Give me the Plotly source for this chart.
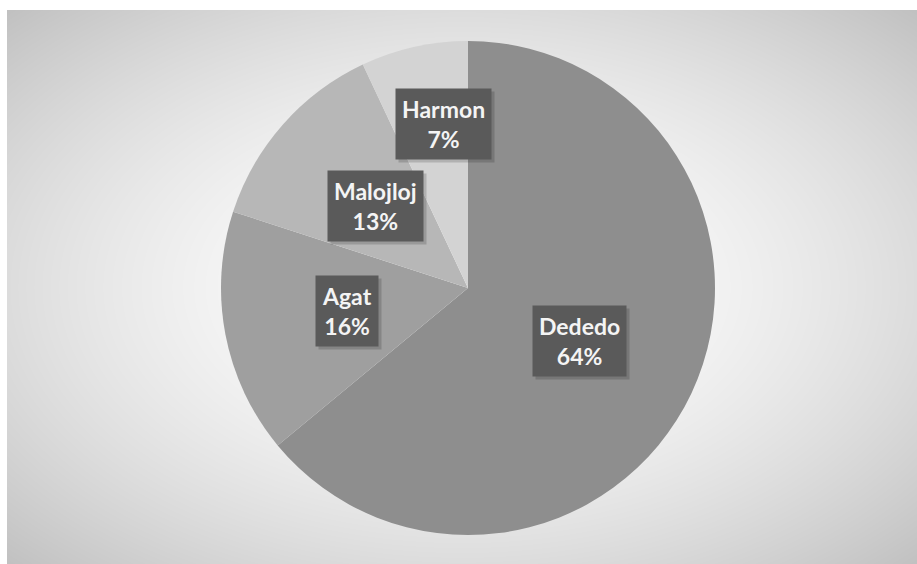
import base64
import math
import struct
import zlib

import numpy as np
import plotly.graph_objects as go

# Share of each village
villages = ["Dededo", "Agat", "Malojloj", "Harmon"]
shares = [64, 16, 13, 7]
slice_colors = ["#8e8e8e", "#9f9f9f", "#b7b7b7", "#d3d3d3"]

W, H = 917, 564
# chart area (pixels) and pie geometry
AX0, AY0 = 7, 10
CX, CY, R = 468, 288, 247


def gradient_png(w, h):
    """Radial grey-to-white fill for the chart area, encoded as a PNG data URI."""
    yy, xx = np.mgrid[0:h, 0:w].astype(float)
    dx = (xx - w / 2) / (w / 2)
    dy = (yy - h / 2) / (h / 2)
    d = np.sqrt(dx ** 2 + dy ** 2) / math.sqrt(2)
    v = 255 - 62 * np.clip(d, 0, 1) ** 1.7
    img = np.clip(v, 0, 255).astype(np.uint8)
    raw = b"".join(b"\x00" + row.tobytes() for row in img)

    def chunk(tag, data):
        c = struct.pack(">I", len(data)) + tag + data
        return c + struct.pack(">I", zlib.crc32(tag + data) & 0xFFFFFFFF)

    png = b"\x89PNG\r\n\x1a\n"
    png += chunk(b"IHDR", struct.pack(">IIBBBBB", w, h, 8, 0, 0, 0, 0))
    png += chunk(b"IDAT", zlib.compress(raw, 9))
    png += chunk(b"IEND", b"")
    return "data:image/png;base64," + base64.b64encode(png).decode()


fig = go.Figure(
    go.Pie(
        labels=villages,
        values=shares,
        sort=False,
        direction="clockwise",
        rotation=0,
        marker=dict(colors=slice_colors, line=dict(width=0)),
        textinfo="none",
        hoverinfo="label+percent",
        domain=dict(
            x=[(CX - R) / W, (CX + R) / W],
            y=[1 - (CY + R) / H, 1 - (CY - R) / H],
        ),
        showlegend=False,
    )
)

# Data labels: placed along each slice's mid angle, each with a soft drop shadow
label_radius = [0.5, 0.5, 0.5, 0.68]
label_nudge = [0, 0, 0, 12]
total = sum(shares)
annotations = []
start = 0.0
for name, val, rf, nx in zip(villages, shares, label_radius, label_nudge):
    mid = (start + val / 2) / total * 2 * math.pi
    start += val
    px = CX + rf * R * math.sin(mid) + nx
    py = CY - rf * R * math.cos(mid)
    pct = round(val / total * 100)
    common = dict(
        x=px / W, y=1 - py / H, xref="paper", yref="paper",
        text=f"<b>{name}<br>{pct}%</b>", showarrow=False, borderpad=6,
        xanchor="center", yanchor="middle",
    )
    annotations.append(dict(
        **common, font=dict(family="Lato", size=23, color="rgba(0,0,0,0)"),
        bgcolor="rgba(0,0,0,0.16)", xshift=3, yshift=-3,
    ))
    annotations.append(dict(
        **common, font=dict(family="Lato", size=23, color="#f4f4f4"),
        bgcolor="#5a5a5a",
    ))

fig.update_layout(
    width=W,
    height=H,
    margin=dict(l=0, r=0, t=0, b=0),
    paper_bgcolor="white",
    annotations=annotations,
    images=[dict(
        source=gradient_png(W - AX0, H - AY0),
        xref="paper", yref="paper",
        x=AX0 / W, y=1 - AY0 / H,
        sizex=(W - AX0) / W, sizey=(H - AY0) / H,
        xanchor="left", yanchor="top",
        sizing="stretch", layer="below",
    )],
)

fig.write_html("out.html")
